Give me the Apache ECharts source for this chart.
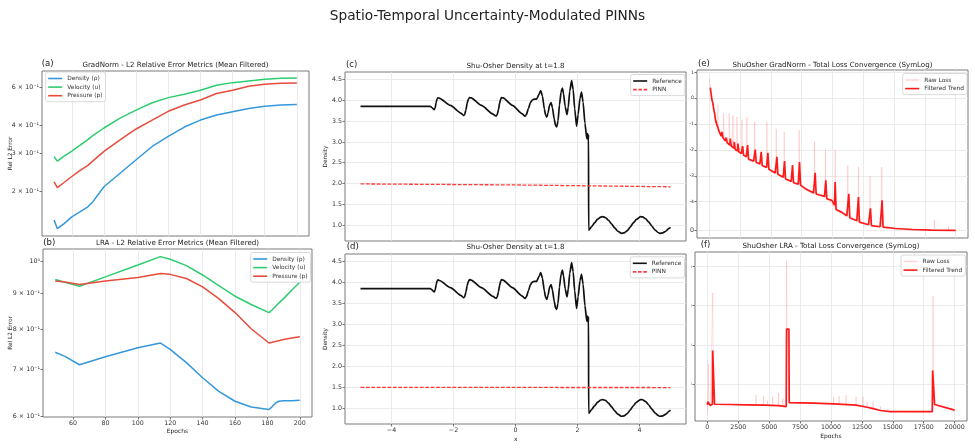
<!DOCTYPE html>
<html>
<head>
<meta charset="utf-8">
<script src="https://cdn.jsdelivr.net/npm/echarts@6/dist/echarts.min.js"></script>
<style>
  html, body { margin: 0; padding: 0; background: #fff; }
  #chart { width: 975px; height: 448px; }
</style>
</head>
<body>
<div id="chart"></div>
<script>
// (a) GradNorm - rel. L2 error
const gnEpochs = [49, 51, 55, 60, 65, 70, 73, 80, 90, 100, 110, 120, 130, 140, 150, 160, 170, 180, 190, 200];
const gnDensity = [0.148, 0.135, 0.142, 0.153, 0.161, 0.170, 0.179, 0.210, 0.242, 0.279, 0.321, 0.357, 0.394, 0.424, 0.447, 0.463, 0.479, 0.491, 0.497, 0.500];
const gnVelocity = [0.288, 0.275, 0.289, 0.306, 0.325, 0.345, 0.360, 0.390, 0.433, 0.471, 0.509, 0.537, 0.557, 0.581, 0.612, 0.629, 0.640, 0.651, 0.658, 0.660];
const gnPressure = [0.221, 0.208, 0.219, 0.234, 0.249, 0.263, 0.275, 0.305, 0.344, 0.386, 0.424, 0.465, 0.497, 0.524, 0.561, 0.580, 0.606, 0.618, 0.625, 0.627];

// (b) LRA - rel. L2 error
const lraEpochs = [49, 55, 64, 80, 100, 114, 120, 130, 140, 150, 160, 170, 181, 183, 185, 187, 190, 195, 200];
const lraDensity = [0.741, 0.731, 0.711, 0.730, 0.752, 0.764, 0.748, 0.716, 0.681, 0.651, 0.630, 0.618, 0.613, 0.619, 0.626, 0.630, 0.631, 0.631, 0.632];
const lraVelocity = [0.943, 0.934, 0.922, 0.951, 0.989, 1.017, 1.008, 0.987, 0.957, 0.924, 0.892, 0.868, 0.845, 0.853, 0.862, 0.872, 0.885, 0.910, 0.934];
const lraPressure = [0.938, 0.935, 0.927, 0.938, 0.949, 0.962, 0.959, 0.946, 0.920, 0.885, 0.845, 0.801, 0.764, 0.766, 0.768, 0.770, 0.773, 0.777, 0.780];

// (c)/(d) Shu-Osher reference density at t=1.8
const shuX = [-5, -2.75, -2.70, -2.65, -2.62, -2.59, -2.56, -2.53, -2.50, -2.45, -2.10, -1.75, -1.70, -1.67, -1.64, -1.60, -1.56, -1.52, -1.48, -1.43,
  -1.10, -0.72, -0.66, -0.62, -0.59, -0.55, -0.51, -0.48, -0.45, -0.40, -0.10, 0.22, 0.27, 0.31, 0.35, 0.42, 0.48, 0.54, 0.60, 0.68,
  0.76, 0.815, 0.87, 0.93, 0.97, 1.008, 1.05, 1.10, 1.147, 1.19, 1.25, 1.29, 1.33, 1.37, 1.42, 1.47, 1.512, 1.55, 1.60, 1.66,
  1.70, 1.75, 1.81, 1.86, 1.91, 1.97, 2.02, 2.08, 2.13, 2.18, 2.24, 2.30, 2.325, 2.345, 2.355, 2.36, 2.45, 2.55, 2.65, 2.75,
  2.81, 2.90, 3.00, 3.10, 3.20, 3.30, 3.42, 3.50, 3.60, 3.70, 3.80, 3.90, 4.03, 4.10, 4.20, 4.30, 4.40, 4.50, 4.60, 4.65,
  4.75, 4.85, 4.95, 5.0];
const shuRho = [3.857, 3.857, 3.83, 3.795, 3.78, 3.82, 3.95, 4.04, 4.065, 4.05, 3.88, 3.69, 3.655, 3.64, 3.66, 3.77, 3.93, 4.03, 4.07, 4.06,
  3.88, 3.67, 3.635, 3.625, 3.655, 3.78, 3.94, 4.03, 4.07, 4.06, 3.88, 3.68, 3.64, 3.62, 3.66, 3.81, 3.95, 4.01, 4.03, 4.03,
  4.15, 4.24, 4.10, 3.80, 3.65, 3.60, 3.70, 3.89, 3.95, 3.83, 3.55, 3.40, 3.36, 3.50, 3.90, 4.20, 4.30, 4.16, 3.86, 3.66,
  3.83, 4.22, 4.48, 4.26, 3.80, 3.38, 3.66, 4.05, 4.20, 3.96, 3.45, 3.08, 3.20, 3.04, 3.18, 0.87, 0.955, 1.05, 1.14, 1.19,
  1.20, 1.18, 1.115, 1.025, 0.93, 0.85, 0.80, 0.81, 0.86, 0.95, 1.05, 1.135, 1.20, 1.195, 1.15, 1.07, 0.97, 0.88, 0.82, 0.80,
  0.81, 0.85, 0.92, 0.945];
const pinnX = [-5, 0, 5];
const pinnGradNorm = [1.99, 1.965, 1.92];
const pinnLRA = [1.492, 1.49, 1.488];

// (e) GradNorm total loss
const gnTrendEpoch = [79, 214, 295, 349, 430, 484, 538, 619, 701, 755, 890, 971, 1025, 1079, 1106, 1295, 1349, 1376, 1430, 1457,
  1566, 1674, 1701, 1755, 1782, 1917, 1998, 2025, 2079, 2106, 2241, 2295, 2322, 2376, 2403, 2593, 2674, 2701, 2755, 2782,
  2998, 3079, 3106, 3160, 3187, 3593, 3701, 3728, 3782, 3809, 4106, 4187, 4214, 4268, 4295, 4647, 4728, 4755, 4809, 4836,
  5350, 5458, 5485, 5539, 5566, 5998, 6079, 6106, 6160, 6188, 6647, 6728, 6755, 6809, 6836, 7215, 7296, 7323, 7377, 7404,
  7782, 8458, 8566, 8593, 8647, 8674, 9350, 9431, 9458, 9512, 9539, 9945, 10161, 10215, 10269, 10296, 10756, 11162, 11296, 11323,
  11377, 11404, 11972, 12079, 12106, 12160, 12187, 12918, 13053, 13080, 13134, 13161, 13864, 13999, 14026, 14080, 14107, 15081, 16432, 18054,
  20000];
const gnTrendLoss = [2.55, 0.85, 0.63, 0.40, 0.26, 0.165, 0.122, 0.091, 0.074, 0.058, 0.041, 0.034, 0.050, 0.050, 0.030, 0.0224, 0.0212, 0.030, 0.030, 0.0188,
  0.0162, 0.0153, 0.0277, 0.0277, 0.0140, 0.0124, 0.0117, 0.0205, 0.0205, 0.0104, 0.0098, 0.0092, 0.0177, 0.0177, 0.0084, 0.0072, 0.0068, 0.0140, 0.0140, 0.0063,
  0.0054, 0.0051, 0.0153, 0.0153, 0.0044, 0.0037, 0.0034, 0.0104, 0.0104, 0.0033, 0.0029, 0.0027, 0.0084, 0.0084, 0.0025, 0.0021, 0.0020, 0.0077, 0.0077, 0.0018,
  0.0013, 0.0012, 0.0054, 0.0054, 0.00115, 0.00088, 0.00083, 0.0037, 0.0037, 0.00076, 0.00061, 0.00058, 0.0026, 0.0026, 0.00054, 0.00048, 0.00047, 0.0034, 0.0034, 0.00044,
  0.00032, 0.00022, 0.00021, 0.0013, 0.0013, 0.000198, 0.000161, 0.000148, 0.00067, 0.00067, 0.000131, 0.000113, 8.8e-5, 0.00058, 0.00058, 7.3e-5, 6.3e-5, 5.1e-5, 4.8e-5, 0.000204,
  0.000204, 4.4e-5, 3.4e-5, 3.1e-5, 0.000152, 0.000152, 2.9e-5, 2.0e-5, 1.9e-5, 7.7e-5, 7.7e-5, 1.7e-5, 1.3e-5, 1.2e-5, 0.000113, 0.000113, 1.2e-5, 7e-6, 3.5e-6, 1.2e-6,
  5e-7];
const gnRawEpoch = [0, 79, 214, 349, 484, 640, 680, 701, 720, 971, 1140, 1160, 1190, 1600, 1620, 1650, 1900, 1917, 1940, 2220,
  2241, 2260, 2630, 2647, 2670, 3030, 3052, 3075, 3650, 3674, 3700, 4650, 4674, 4700, 5410, 5431, 5455, 6060, 6080, 6100,
  7275, 7296, 7320, 8520, 8539, 8560, 9410, 9431, 9450, 10195, 10215, 10235, 11220, 11242, 11265, 12085, 12106, 12130, 13030, 13053,
  13075, 13980, 13999, 14020, 18250, 18270, 18290, 19385, 19405, 19425, 20000];
const gnRawLoss = [5.9, 2.6, 0.86, 0.40, 0.17, 0.08, 0.075, 0.54, 0.07, 0.034, 0.027, 0.26, 0.026, 0.016, 0.26, 0.0155, 0.0125, 0.22, 0.012, 0.0099,
  0.19, 0.0097, 0.0071, 0.142, 0.0069, 0.0054, 0.19, 0.0052, 0.0036, 0.122, 0.0035, 0.0021, 0.122, 0.0021, 0.00125, 0.067, 0.0012, 0.00085, 0.050, 0.00083,
  0.00047, 0.058, 0.00047, 0.00021, 0.0205, 0.00021, 0.00015, 0.0098, 0.000148, 8e-5, 0.0098, 7.5e-5, 4.9e-5, 0.0026, 4.8e-5, 3.1e-5, 0.0022, 3.0e-5, 1.9e-5, 0.00096,
  1.9e-5, 1.2e-5, 0.0022, 1.2e-5, 1.2e-6, 3.8e-5, 1.2e-6, 5e-7, 1.5e-5, 5e-7, 5e-7];

// (f) LRA total loss
const lraTrendEpoch = [0, 40, 81, 140, 216, 410, 432, 541, 580, 1838, 3190, 4541, 5757, 6379, 6406, 6595, 6622, 8596, 10217, 12028,
  12920, 13407, 14002, 14800, 16705, 18192, 18220, 18330, 18381, 20000];
const lraTrendLoss = [3.0, 3.6, 3.9, 3.5, 2.9, 3.1, 72, 72, 3.1, 3.05, 3.0, 2.95, 2.85, 2.7, 253, 253, 3.4, 3.3, 3.15, 2.95,
  2.6, 2.4, 2.15, 2.02, 2.0, 2.0, 22.5, 22.5, 3.05, 2.2];
const lraRawEpoch = [0, 40, 81, 120, 250, 410, 432, 470, 541, 580, 1838, 3190, 3926, 3946, 3966, 4521, 4541, 4561, 4845, 4865,
  4885, 5251, 5271, 5291, 5737, 5757, 5777, 6089, 6109, 6129, 6379, 6406, 6450, 6595, 6622, 8596, 10197, 10217, 10237, 10630,
  10650, 10670, 11197, 11217, 11237, 12008, 12028, 12048, 12576, 12596, 12616, 12900, 12920, 12940, 13387, 13407, 13427, 13982, 14002, 14022,
  14800, 16705, 18192, 18246, 18300, 18381, 20000];
const lraRawLoss = [1.8, 2.6, 33, 3.6, 3.0, 3.1, 2130, 72, 72, 3.1, 3.05, 3.0, 2.97, 5.3, 2.97, 2.95, 5.0, 2.95, 2.92, 3.8,
  2.92, 2.9, 4.8, 2.9, 2.85, 6.05, 2.85, 2.8, 4.35, 2.8, 2.7, 13900, 260, 250, 3.4, 3.3, 3.15, 4.8, 3.15, 3.12,
  5.0, 3.12, 3.07, 5.3, 3.07, 2.95, 4.8, 2.95, 2.75, 4.8, 2.75, 2.6, 3.6, 2.6, 2.4, 3.6, 2.4, 2.15, 2.7, 2.15,
  2.02, 2.0, 2.0, 1750, 22.5, 3.05, 2.2];

// tick labels
const gnTicks = [0.2, 0.3, 0.4, 0.6];
const lraTicks = [0.6, 0.7, 0.8, 0.9, 1.0];
const epochTicks = [60, 80, 100, 120, 140, 160, 180, 200];
const shuXTicks = [-4, -2, 0, 2, 4];
const rhoTicks = [1.0, 1.5, 2.0, 2.5, 3.0, 3.5, 4.0, 4.5];
const lossTicksE = [0, 1e-4, 1e-3, 1e-2, 1e-1, 1, 10];
const lossLabelsE = ['0', '-4', '-3', '-2', '-1', '0', '1'];
const lossTicksF = [10, 100, 1000, 10000];
const lossEpochTicks = [0, 2500, 5000, 7500, 10000, 12500, 15000, 17500, 20000];

const FONT = 'DejaVu Sans';
const BLUE = '#3498db', GREEN = '#2ecc71', RED = '#e74c3c';
const PINN_RED = '#ff3a3a', RAW_PINK = 'rgba(255,0,0,0.16)', TREND_RED = '#ff1a1a';

const zip = (xs, ys) => xs.map((x, i) => [x, ys[i]]);
// matplotlib symlog, linthresh 1e-4, linscale 1
const symlog = (v) => {
  const lt = 1e-4, ls = 1 / (1 - 1 / 10), a = Math.abs(v);
  return a <= lt ? v / lt * ls : Math.sign(v) * (ls + Math.log10(a / lt));
};

const labelStyle = {fontFamily: FONT, fontSize: 6.3, color: '#333', margin: 3};
const tickStyle = {length: 2.5, lineStyle: {color: '#555', width: 0.8}};
const gridLine = {show: true, lineStyle: {color: '#e6e6e6', width: 0.8}};

const grid = [
  {left: 42, top: 71, width: 267, height: 165},
  {left: 43, top: 249, width: 269, height: 168},
  {left: 345, top: 72, width: 341, height: 169},
  {left: 345, top: 254, width: 341, height: 170},
  {left: 697, top: 70, width: 271, height: 168},
  {left: 695, top: 252, width: 272, height: 169},
].map((g) => Object.assign({show: true, borderColor: '#7a7a7a', borderWidth: 1, backgroundColor: '#fff', outerBoundsMode: 'none'}, g));

function xAxis(gridIndex, min, max, ticks, showLabels, fmt) {
  return {
    type: 'value', gridIndex, min, max, position: 'bottom',
    axisLine: {show: false, onZero: false},
    axisTick: Object.assign({show: showLabels, customValues: ticks}, tickStyle),
    axisLabel: Object.assign({show: showLabels, customValues: ticks, formatter: fmt || ((v) => String(v))}, labelStyle),
    splitLine: gridLine,
  };
}

function logDataAxis(gridIndex, min, max) {
  return {type: 'log', logBase: 10, gridIndex, position: 'left', min, max, show: false,
    axisLine: {show: false, onZero: false}, splitLine: {show: false}};
}

function labelAxis(gridIndex, min, max, ticks, fmt, lines, extraLabel) {
  return {
    type: 'value', gridIndex, position: 'left', min, max,
    axisLine: {show: false, onZero: false},
    axisTick: Object.assign({show: true, customValues: ticks}, tickStyle),
    axisLabel: Object.assign({customValues: ticks, formatter: fmt}, labelStyle, extraLabel || {}),
    splitLine: lines ? gridLine : {show: false},
  };
}

const sciLabel = (v) => {
  const r = Math.round(v * 10);
  return r === 10 ? '10⁰' : r + ' × 10⁻¹';
};
const log10 = (v) => Math.log10(v);

const xAxes = [
  xAxis(0, 41.45, 207.55, epochTicks, false),
  xAxis(1, 41.45, 207.55, epochTicks, true),
  xAxis(2, -5.5, 5.5, shuXTicks, false),
  xAxis(3, -5.5, 5.5, shuXTicks, true, (v) => (v < 0 ? '−' + Math.abs(v) : String(v))),
  xAxis(4, -1000, 21000, lossEpochTicks, false),
  xAxis(5, -1000, 21000, lossEpochTicks, true),
];

const eTickVals = lossTicksE.map(symlog);
const yAxes = [
  logDataAxis(0, 0.125, 0.711),
  labelAxis(0, log10(0.125), log10(0.711), gnTicks.map(log10), (v) => sciLabel(Math.pow(10, v)), false),
  logDataAxis(1, 0.598, 1.043),
  labelAxis(1, log10(0.598), log10(1.043), lraTicks.map(log10), (v) => sciLabel(Math.pow(10, v)), false),
  labelAxis(2, 0.615, 4.685, rhoTicks, (v) => v.toFixed(1), true),
  labelAxis(3, 0.615, 4.685, rhoTicks, (v) => v.toFixed(1), true),
  labelAxis(4, -0.29, 6.2, eTickVals, (v) => {
    const i = eTickVals.findIndex((t) => Math.abs(t - v) < 1e-6);
    if (i < 0) return '';
    return i === 0 ? '{n|0}' : '{s|' + lossLabelsE[i] + '}';
  }, true, {rich: {n: {fontFamily: FONT, fontSize: 6.3, color: '#333'}, s: {fontFamily: FONT, fontSize: 4.6, color: '#333'}}}),
  logDataAxis(5, 1.16, 23200),
  labelAxis(5, 0.065, 4.365, lossTicksF.map(log10), () => 'ı', true, {fontSize: 4.6, color: '#888'}),
];

function line(name, xi, yi, data, color, width, extra) {
  return Object.assign({
    type: 'line', name, xAxisIndex: xi, yAxisIndex: yi, data, color,
    symbol: 'none', showSymbol: false, animation: false, silent: true,
    lineStyle: {color, width}, itemStyle: {color},
    emphasis: {disabled: true},
  }, extra || {});
}

const symPairs = (xs, ys) => xs.map((x, i) => [x, symlog(ys[i])]);
const refStyle = {smooth: 0.2, smoothMonotone: 'x'};
const pinnStyle = {z: 5, lineStyle: {color: PINN_RED, width: 1.3, type: [3.8, 1.6]}};

const series = [
  line('Density (ρ)', 0, 0, zip(gnEpochs, gnDensity), BLUE, 1.5),
  line('Velocity (u)', 0, 0, zip(gnEpochs, gnVelocity), GREEN, 1.5),
  line('Pressure (p)', 0, 0, zip(gnEpochs, gnPressure), RED, 1.5),
  line('Density (ρ)', 1, 2, zip(lraEpochs, lraDensity), BLUE, 1.5),
  line('Velocity (u)', 1, 2, zip(lraEpochs, lraVelocity), GREEN, 1.5),
  line('Pressure (p)', 1, 2, zip(lraEpochs, lraPressure), RED, 1.5),
  line('Reference', 2, 4, zip(shuX, shuRho), '#111', 1.7, refStyle),
  line('PINN', 2, 4, zip(pinnX, pinnGradNorm), PINN_RED, 1.3, pinnStyle),
  line('Reference', 3, 5, zip(shuX, shuRho), '#111', 1.7, refStyle),
  line('PINN', 3, 5, zip(pinnX, pinnLRA), PINN_RED, 1.3, pinnStyle),
  line('Raw Loss', 4, 6, symPairs(gnRawEpoch, gnRawLoss), RAW_PINK, 0.8),
  line('Filtered Trend', 4, 6, symPairs(gnTrendEpoch, gnTrendLoss), TREND_RED, 1.7),
  line('Raw Loss', 5, 7, zip(lraRawEpoch, lraRawLoss), RAW_PINK, 0.8),
  line('Filtered Trend', 5, 7, zip(lraTrendEpoch, lraTrendLoss), TREND_RED, 1.7),
];

// legend handles drawn as short line strokes (solid or dashed)
const SOLID = 'rect';
const DASHED = 'path://M0,0h3.5v1h-3.5z M5.25,0h3.5v1h-3.5z M10.5,0h3.5v1h-3.5z';
function legend(items, left, top) {
  return {
    data: items.map(([name, icon]) => ({name, icon})),
    orient: 'vertical', left, top,
    itemWidth: 14, itemHeight: 1.6, itemGap: 2.6, symbolKeepAspect: false,
    padding: [3.5, 3, 3, 2.5],
    backgroundColor: 'rgba(255,255,255,0.9)', borderColor: '#d0d0d0', borderWidth: 0.8, borderRadius: 2,
    textStyle: {fontFamily: FONT, fontSize: 5.9, color: '#333'},
    selectedMode: false,
  };
}
const flow = [['Density (ρ)', SOLID], ['Velocity (u)', SOLID], ['Pressure (p)', SOLID]];
const shuItems = [['Reference', SOLID], ['PINN', DASHED]];
const lossItems = [['Raw Loss', SOLID], ['Filtered Trend', SOLID]];
const legends = [
  legend(flow, 45.7, 72),
  legend(flow, 250.7, 252.5),
  legend(shuItems, 630.7, 74.5),
  legend(shuItems, 630.3, 256.8),
  legend(lossItems, 902.7, 73.5),
  legend(lossItems, 901, 255),
];

const texts = [
  ['Spatio-Temporal Uncertainty-Modulated PINNs', 487.5, 16, 13.7, 'center', 0],
  ['GradNorm - L2 Relative Error Metrics (Mean Filtered)', 175.5, 65, 7.1, 'center', 0],
  ['LRA - L2 Relative Error Metrics (Mean Filtered)', 177.5, 243.3, 7.1, 'center', 0],
  ['Shu-Osher Density at t=1.8', 515.5, 65.7, 7.1, 'center', 0],
  ['Shu-Osher Density at t=1.8', 515.5, 247.3, 7.1, 'center', 0],
  ['ShuOsher GradNorm - Total Loss Convergence (SymLog)', 832.5, 64.7, 7.1, 'center', 0],
  ['ShuOsher LRA - Total Loss Convergence (SymLog)', 831, 245.7, 7.1, 'center', 0],
  ['(a)', 41.7, 63.5, 8.5, 'left', 0],
  ['(b)', 43.3, 242.5, 8.5, 'left', 0],
  ['(c)', 346, 65, 8.5, 'left', 0],
  ['(d)', 346.7, 246.5, 8.5, 'left', 0],
  ['(e)', 698, 64, 8.5, 'left', 0],
  ['(f)', 700.7, 245, 8.5, 'left', 0],
  ['Rel L2 Error', 10, 153.5, 5.8, 'center', Math.PI / 2],
  ['Rel L2 Error', 10, 333, 5.8, 'center', Math.PI / 2],
  ['Density', 325.5, 156.5, 5.8, 'center', Math.PI / 2],
  ['Density', 325.7, 339, 5.8, 'center', Math.PI / 2],
  ['Epochs', 177.5, 431.7, 6, 'center', 0],
  ['x', 515.7, 439.3, 6, 'center', 0],
  ['Epochs', 831, 436.7, 6, 'center', 0],
];
const graphic = texts.map(([text, x, y, size, align, rotation]) => ({
  type: 'text', x, y, rotation, silent: true,
  style: {text, fontFamily: FONT, fontSize: size, fill: '#222', align, verticalAlign: 'middle'},
}));

const chart = echarts.init(document.getElementById('chart'), null, {renderer: 'canvas'});
chart.setOption({
  animation: false,
  backgroundColor: '#fff',
  textStyle: {fontFamily: FONT},
  grid,
  xAxis: xAxes,
  yAxis: yAxes,
  legend: legends,
  series,
  graphic,
});
</script>
</body>
</html>
